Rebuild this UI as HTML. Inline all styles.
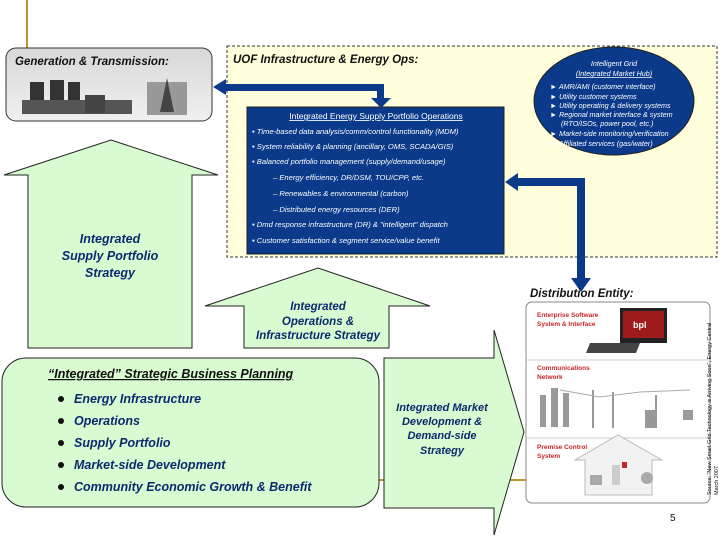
<!DOCTYPE html>
<html><head><meta charset="utf-8"><style>
body{margin:0;background:#fff;}
svg{display:block;font-family:"Liberation Sans",Arial,sans-serif;}
.it{font-style:italic}
</style></head><body>
<svg width="720" height="540" viewBox="0 0 720 540">
<defs>
<linearGradient id="gg" x1="0" y1="0" x2="0" y2="1"><stop offset="0" stop-color="#d8d8d8"/><stop offset="1" stop-color="#f0f0f0"/></linearGradient>
</defs>
<!-- gold lines -->
<line x1="27" y1="0" x2="27" y2="48" stroke="#b8962e" stroke-width="2"/>
<line x1="370" y1="480" x2="540" y2="480" stroke="#b8962e" stroke-width="2"/>

<!-- dashed yellow panel -->
<rect x="227" y="46" width="490" height="211" fill="#ffffdc" stroke="#333" stroke-dasharray="3,2" stroke-width="1"/>
<text x="233" y="63" font-size="11.5" font-weight="bold" class="it" fill="#111">UOF Infrastructure &amp; Energy Ops:</text>

<!-- gen box -->
<rect x="6" y="48" width="206" height="73" rx="10" fill="url(#gg)" stroke="#333"/>
<text x="15" y="65" font-size="11.5" font-weight="bold" class="it" fill="#111">Generation &amp; Transmission:</text>
<!-- plant sketch -->
<g fill="#333">
<rect x="30" y="82" width="14" height="30"/><rect x="50" y="80" width="14" height="32"/><rect x="68" y="82" width="12" height="30"/>
<rect x="22" y="100" width="110" height="14" fill="#555"/>
<rect x="85" y="95" width="20" height="18" fill="#444"/>
<rect x="147" y="82" width="40" height="33" fill="#999"/>
<path d="M160 112 L167 78 L174 112Z" fill="#444"/>
</g>

<!-- ellipse -->
<ellipse cx="614" cy="101" rx="80" ry="54" fill="#0b3a8a" stroke="#222"/>
<g fill="#fff" font-size="7.2" class="it">
<text x="614" y="66" text-anchor="middle">Intelligent Grid</text>
<text x="614" y="76" text-anchor="middle" text-decoration="underline">(Integrated Market Hub)</text>
<text x="550" y="89">►  AMR/AMI (customer interface)</text>
<text x="550" y="99">►  Utility customer systems</text>
<text x="550" y="108">►  Utility operating &amp; delivery systems</text>
<text x="550" y="117">►  Regional market interface &amp; system</text>
<text x="561" y="126">(RTO/ISOs, power pool, etc.)</text>
<text x="550" y="136">►  Market-side monitoring/verification</text>
<text x="550" y="146">►  Affiliated services (gas/water)</text>
</g>

<!-- blue box -->
<rect x="247" y="107" width="257" height="147" fill="#0b3a8a" stroke="#222"/>
<g fill="#fff" font-size="7.6" class="it">
<text x="376" y="119" text-anchor="middle" font-style="normal" font-size="8.5" text-decoration="underline">Integrated Energy Supply Portfolio Operations</text>
<text x="252" y="134">▪  Time-based data analysis/comm/control functionality (MDM)</text>
<text x="252" y="149">▪  System reliability &amp; planning (ancillary, OMS, SCADA/GIS)</text>
<text x="252" y="164">▪  Balanced portfolio management (supply/demand/usage)</text>
<text x="273" y="180">–  Energy efficiency, DR/DSM, TOU/CPP, etc.</text>
<text x="273" y="196">–  Renewables &amp; environmental (carbon)</text>
<text x="273" y="212">–  Distributed energy resources (DER)</text>
<text x="252" y="227">▪  Dmd response infrastructure (DR) &amp; "intelligent" dispatch</text>
<text x="252" y="243">▪  Customer satisfaction &amp; segment service/value benefit</text>
</g>

<!-- top double arrow -->
<g fill="#0b3a8a">
<polygon points="213,87 226,79 226,84 384,84 384,98 391,98 381,108 371,98 377,98 377,91 226,91 226,95"/>
</g>
<!-- right double arrow -->
<g fill="#0b3a8a">
<polygon points="505,182 518,173 518,178 585,178 585,278 591,278 581,292 571,278 577,278 577,186 518,186 518,191"/>
</g>

<!-- left green up arrow -->
<polygon points="28,348 28,175 4,175 111,140 218,175 192,175 192,348" fill="#d9fbd2" stroke="#222"/>
<g fill="#0b2a6e" font-size="12.5" font-weight="bold" class="it" text-anchor="middle">
<text x="110" y="243">Integrated</text><text x="110" y="260">Supply Portfolio</text><text x="110" y="277">Strategy</text>
</g>
<!-- middle green up arrow -->
<polygon points="244,348 244,306 205,306 318,268 430,306 389,306 389,348" fill="#d9fbd2" stroke="#222"/>
<g fill="#0b2a6e" font-size="11.5" font-weight="bold" class="it" text-anchor="middle">
<text x="318" y="310">Integrated</text><text x="318" y="325">Operations &amp;</text><text x="318" y="339">Infrastructure Strategy</text>
</g>

<!-- right green arrow -->
<polygon points="384,358 494,358 494,330 524,432 494,535 494,508 384,508" fill="#d9fbd2" stroke="#222"/>
<g fill="#0b2a6e" font-size="11" font-weight="bold" class="it" text-anchor="middle">
<text x="442" y="411">Integrated Market</text><text x="442" y="425">Development &amp;</text><text x="442" y="439">Demand-side</text><text x="442" y="454">Strategy</text>
</g>

<!-- planning box -->
<rect x="2" y="358" width="377" height="149" rx="24" fill="#d9fbd2" stroke="#222"/>
<g fill="#0b2a6e" font-weight="bold" class="it">
<text x="48" y="378" font-size="12.5" text-decoration="underline" fill="#111">“Integrated” Strategic Business Planning</text>
<g font-size="12.5">
<text x="74" y="403">Energy Infrastructure</text>
<text x="74" y="425">Operations</text>
<text x="74" y="447">Supply Portfolio</text>
<text x="74" y="469">Market-side Development</text>
<text x="74" y="491">Community Economic Growth &amp; Benefit</text>
</g>
<g fill="#111"><circle cx="61" cy="399" r="3"/><circle cx="61" cy="421" r="3"/><circle cx="61" cy="443" r="3"/><circle cx="61" cy="465" r="3"/><circle cx="61" cy="487" r="3"/></g>
</g>

<!-- distribution -->
<text x="530" y="297" font-size="11.5" font-weight="bold" class="it" fill="#111">Distribution Entity:</text>
<rect x="526" y="302" width="184" height="201" rx="6" fill="#fff" stroke="#888"/>
<line x1="527" y1="360" x2="709" y2="360" stroke="#ccc"/>
<line x1="527" y1="438" x2="709" y2="438" stroke="#ccc"/>
<g fill="#c8262a" font-size="6.5" font-weight="bold">
<text x="537" y="317">Enterprise Software</text><text x="537" y="326">System &amp; Interface</text>
<text x="537" y="370">Communications</text><text x="537" y="379">Network</text>
<text x="537" y="449">Premise Control</text><text x="537" y="458">System</text>
</g>
<rect x="620" y="308" width="47" height="35" fill="#222"/>
<rect x="623" y="311" width="41" height="27" fill="#9e1b1b"/>
<text x="633" y="328" font-size="9" fill="#fff" font-weight="bold">bpl</text>
<polygon points="590,343 640,343 636,353 586,353" fill="#444"/>
<g fill="#999">
<rect x="540" y="395" width="6" height="32"/><rect x="551" y="388" width="7" height="39"/><rect x="563" y="393" width="6" height="34"/>
<rect x="592" y="390" width="2" height="38"/><rect x="612" y="392" width="2" height="36"/><rect x="655" y="395" width="2" height="32"/>
<rect x="645" y="410" width="12" height="18"/><rect x="683" y="410" width="10" height="10"/>
</g>
<polyline points="560,390 600,397 640,392 690,390" fill="none" stroke="#aaa"/>
<polygon points="585,495 585,460 575,460 618,435 662,460 652,460 652,495" fill="#f2f2f2" stroke="#bbb"/>
<rect x="612" y="465" width="8" height="20" fill="#ccc"/><rect x="622" y="462" width="5" height="6" fill="#c8262a"/>
<rect x="590" y="475" width="12" height="10" fill="#aaa"/><circle cx="647" cy="478" r="6" fill="#aaa"/>
<text x="711" y="495" font-size="5.5" fill="#111" transform="rotate(-90 711 495)">Source: "New Smart Grid Technology is Arriving Soon", Energy Central</text>
<text x="718" y="495" font-size="5.5" fill="#111" transform="rotate(-90 718 495)">March 2007</text>
<text x="670" y="521" font-size="10" fill="#111">5</text>
</svg>
</body></html>
